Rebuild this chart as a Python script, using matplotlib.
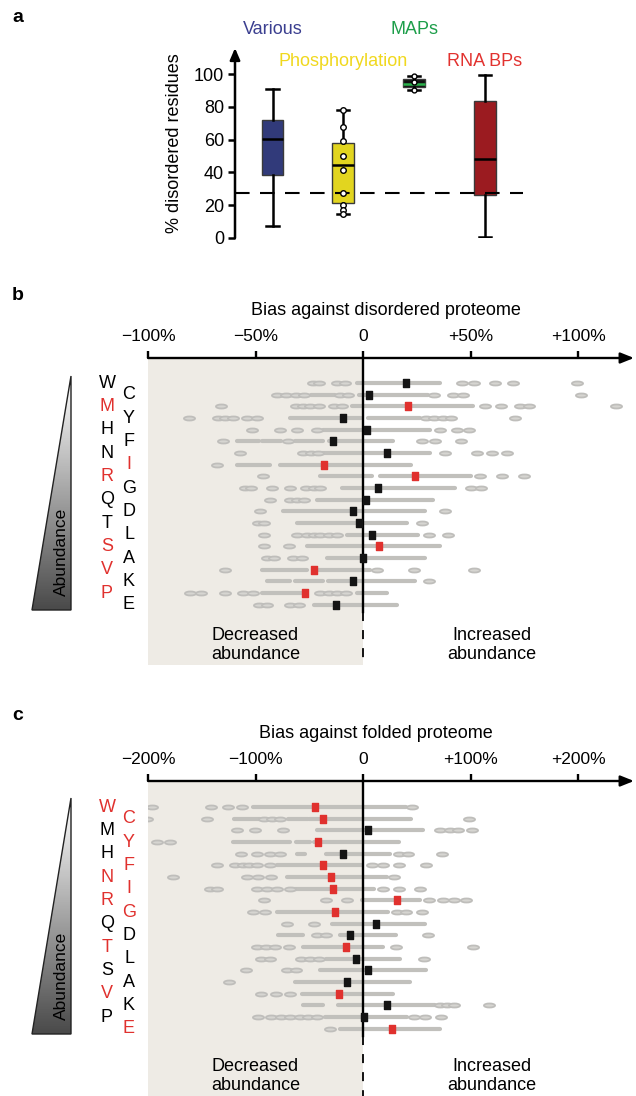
import matplotlib
matplotlib.use("Agg")
import matplotlib.pyplot as plt
import matplotlib.transforms as mtransforms
from matplotlib.path import Path
from matplotlib.patches import Polygon
from matplotlib.colors import LinearSegmentedColormap
import numpy as np

plt.rcParams['font.family'] = ['Liberation Sans', 'DejaVu Sans']

# ---- panel a: % disordered residues per group ----
groups = ["Various", "Phosphorylation", "MAPs", "RNA BPs"]
whislo = [7.6, 14.7, 90.4, 0.4]
q1 = [38.2, 21.2, 92.2, 26.3]
med = [60.6, 44.7, 93.8, 48.0]
q3 = [71.8, 58.2, 97.1, 83.9]
whishi = [91.2, 78.4, 98.8, 99.4]
phos_points = [78.4, 67.6, 59.0, 50.0, 41.4, 27.3, 20.4, 17.3, 14.7]
maps_points = [98.8, 95.1, 90.4]
proteome_level = 27.3

# ---- panels b / c: residues ordered by abundance ----
residues = ["W", "C", "M", "Y", "H", "F", "N", "I", "R", "G",
            "Q", "D", "T", "L", "S", "A", "V", "K", "P", "E"]

# panel b, bias against disordered proteome (%)
sig_b = ["M", "I", "R", "S", "V", "P"]
med_b = [20, 3, 21, -9.5, 2, -14, 11, -18, 24, 7,
         1.5, -4.5, -2, 4, 7.5, 0, -23, -4.5, -27, -12.5]
segs_b = [
    [(-3, 36)],
    [(-24, -13), (-2, 30)],
    [(-5, 51)],
    [(-34, -1), (2.5, 26.5)],
    [(-18.5, 31)],
    [(-58.5, -48.5), (-47, -38), (-31.5, -18.5), (-16, 14)],
    [(-19, 31)],
    [(-58.8, -43.3), (-38.5, 22.5)],
    [(-20, 4), (8, 50)],
    [(-9.9, 42.8)],
    [(-21.2, 32.7)],
    [(-37, 28.8)],
    [(-30.5, 20.3)],
    [(-7.3, 25.7)],
    [(-25.9, 35.8)],
    [(-16.9, 28.8)],
    [(-47.1, -26.2), (-21.2, 3.3)],
    [(-44.8, -34), (-31.6, -18.4), (-16.1, -6), (-4.5, 24.2)],
    [(-47, -27), (-3, 11)],
    [(-23, 15.7)],
]
pts_b = [
    [-23.5, -20.5, -12, -8.5, 46, 51.5, 61.5, 69.5, 99.5],
    [-40, -36, -31, -27.5, -10.5, -7, 33, 42, 46.5, 101.5],
    [-66, -31, -28, -24.5, -20.5, -13.5, -10, 56.5, 64, 73, 77, 117.5],
    [-81, -67.5, -64, -60.5, -54, -49.5, 29.5, 33, 37, 41, 70.5],
    [-51.5, -38.5, -30.5, -21.5, 36, 43.5, 49.5],
    [-65, -35, 27.5, 33.5, 45.5],
    [-57, -28, -24, -21, 38, 53, 60, 67],
    [-68],
    [-46.5, 54.5, 64.5, 75],
    [-55, -52, -42.5, -34, -26.5, -23, -20, 50, 55],
    [-43.5, -34, -30.5, -27.5],
    [-48, 38],
    [-49, -46, 27.5],
    [-46, -30.5, -26, -23, -20, -16, -12, 30.5, 39.5],
    [-46, -34.5],
    [-44.5, -41.5, -32.5, -28.5],
    [-64, 6.5, 23.5, 51.5],
    [30.5],
    [-80.5, -75.5, -64, -56, -51, -20, -16, -12, -8],
    [-48.5, -44.5, -34, -30],
]

# panel c, bias against folded proteome (%)
sig_c = ["W", "C", "Y", "F", "N", "I", "R", "G", "T", "V", "E"]
med_c = [-45, -37, 4.5, -42, -19, -37, -30, -28, 32, -26,
         12, -12, -16, -6.5, 4.5, -15, -22, 22, 1, 27]
segs_c = [
    [(-102.5, 40)],
    [(-120, -96), (-69.5, -51), (-50, 45)],
    [(-43, 56)],
    [(-120.5, -68), (-62, -49), (-46, 33)],
    [(-61, -54), (-34, 25)],
    [(-80, -1)],
    [(-71, 22)],
    [(-65, 10)],
    [(-1, 53)],
    [(-80, 23.5)],
    [(-29, 57.5)],
    [(-79, -55.5), (-21.5, 31)],
    [(-55.5, 19)],
    [(-34, 34)],
    [(-40, 59)],
    [(-63, 43.5)],
    [(-57, 28)],
    [(-55.5, -37), (-23, 67)],
    [(-35, 40.5)],
    [(-21.5, 71.5)],
]
pts_c = [
    [-196.5, -141.5, -125.5, -112.5, 45.5],
    [-201, -145.5, -92.5, -85, -77, 99],
    [-117.5, -100.5, -74, 71.5, 81, 88.5, 101.5],
    [-191.5, -179.5],
    [-113.5, -99, -86.5, -77, 33, 42, 73.5],
    [-136, -119, -112, -106, -99, -86.5, 8, 19, 33, 58.5],
    [-177, -108, -97.5, -86, 29],
    [-142.5, -136, -99, -89.5, -80, -68, 19, 33, 53],
    [-92, -34, -15, 61.5, 74, 84.5, 96],
    [-102, -91, 32, 40, 54.5],
    [-71, -46],
    [-43, -34, 60],
    [-98.5, -90, -82, -68.5, 30.5, 102.5],
    [-94.5, -86.5, -58, -49, -40.5, 57],
    [-109, -71, -62],
    [-124.5],
    [-94.5, -81, -68],
    [71.5, 78, 84.5, 117.5],
    [-97.5, -85.5, -76.5, -68, -58.5, -51, -43, 47.5, 57.5, 72.5],
    [-30.5],
]

# colours
BOX_COLS = ["#313a7a", "#e2d51f", "#111111", "#9b1b20"]
TEXT_COLS = ["#3b3f90", "#f0d81e", "#1d9e4a", "#e2322f"]
RED = "#e0312e"
SHADE = "#eeebe5"

W, H = 636, 1096
fig = plt.figure(figsize=(W / 100, H / 100), dpi=100)


def px_axes(x0, y0, x1, y1):
    return fig.add_axes([x0 / W, 1 - y1 / H, (x1 - x0) / W, (y1 - y0) / H])


# overlay in pixel coordinates for labels / decorations
ov = fig.add_axes([0, 0, 1, 1], zorder=5)
ov.set_xlim(0, W)
ov.set_ylim(H, 0)
ov.axis("off")

for lab, y in [("a", 18), ("b", 296), ("c", 716)]:
    ov.text(18, y, lab, fontsize=14, fontweight="bold", ha="center", va="center")

# ---------------- panel a ----------------
ax = px_axes(235, 48, 540, 238)
pos = [0, 1, 2, 3]
XL = (-0.53, 3.78)
stats = [dict(whislo=whislo[i], q1=q1[i], med=med[i], q3=q3[i], whishi=whishi[i])
         for i in range(len(groups))]
bp = ax.bxp(stats, positions=pos, widths=0.31, patch_artist=True, showfliers=False,
            boxprops=dict(edgecolor="#3a3a3a", linewidth=1.0),
            whiskerprops=dict(color="k", linewidth=1.8),
            capprops=dict(color="k", linewidth=1.8),
            medianprops=dict(color="k", linewidth=1.8),
            capwidths=0.17)
for patch, c in zip(bp["boxes"], BOX_COLS):
    patch.set_facecolor(c)
bp["medians"][2].set_color("#2bb24c")
ax.plot([pos[1]] * len(phos_points), phos_points, "o", ms=4, mfc="white", mec="k",
        mew=1.0, zorder=4)
ax.plot([pos[2]] * len(maps_points), maps_points, "o", ms=3.5, mfc="white", mec="k",
        mew=1.0, zorder=4)
ax.plot([XL[0], 3.54], [proteome_level] * 2, color="k", lw=1.5,
        dashes=(7, 5), clip_on=False)
ax.set_xlim(*XL)
ax.set_ylim(0, 116)
ax.set_yticks([0, 20, 40, 60, 80, 100])
ax.tick_params(axis="y", labelsize=13, length=5, width=1.8, pad=3)
ax.set_xticks([])
for s in ["top", "right", "bottom", "left"]:
    ax.spines[s].set_visible(False)
ax.annotate("", xy=(0, 1), xytext=(0, 0), xycoords="axes fraction",
            arrowprops=dict(arrowstyle="-|>,head_length=0.7,head_width=0.3",
                            lw=1.8, color="k", shrinkA=0, shrinkB=0))
ax.set_ylabel("% disordered residues", fontsize=13, labelpad=8)
ax.patch.set_alpha(0)

label_y = [30, 61, 30, 61]
tr_a = mtransforms.blended_transform_factory(ax.transData, ov.transData)
for i, g in enumerate(groups):
    ov.text(pos[i], label_y[i], g, color=TEXT_COLS[i], fontsize=13, ha="center",
            va="center", transform=tr_a)

# ---------------- panels b / c ----------------
ell = Path.unit_circle().transformed(mtransforms.Affine2D().scale(1.0, 0.36))
rect = Path([(-0.3, -0.5), (0.3, -0.5), (0.3, 0.5), (-0.3, 0.5), (-0.3, -0.5)], closed=True)
grad_cmap = LinearSegmentedColormap.from_list("g", ["#ffffff", "#4a4a4a"])


def bias_panel(box, xmin, xmax, row0_px, ticks, ticklabels, title, segs, pts, meds, sig,
               title_x, tri_top, tri_bot):
    x0, y0, x1, y1 = box
    row_h = 11.67
    ytop = -(row0_px - y0) / row_h
    ybot = (y1 - row0_px) / row_h
    ax = px_axes(x0, y0, x1, y1)
    ax.set_xlim(xmin, xmax)
    ax.set_ylim(ybot, ytop)
    ax.axvspan(xmin, 0, color=SHADE, lw=0, zorder=0)
    for i in range(len(residues)):
        for lo, hi in segs[i]:
            ax.hlines(i, lo, hi, color="#c1c0bc", lw=3.0, capstyle="round", zorder=2)
        ax.plot(pts[i], [i] * len(pts[i]), ls="none", marker=ell, ms=8.0,
                mfc="#d6d5d1", mec="#bfbebb", mew=1.3, zorder=2)
    ax.plot([0, 0], [ytop, 19.6], color="k", lw=1.7, zorder=3)
    ax.plot([0, 0], [19.6, ybot], color="k", lw=1.3, dashes=(5, 5), zorder=3)
    cols = [RED if r in sig else "#141414" for r in residues]
    for i in range(len(residues)):
        ax.plot(meds[i], i, marker=rect, ms=6.3, color=cols[i], ls="none", zorder=4)
    ax.xaxis.tick_top()
    ax.set_xticks(ticks)
    ax.set_xticklabels(ticklabels)
    ax.tick_params(axis="x", labelsize=12.5, length=5, width=1.7, pad=5)
    ax.set_yticks([])
    for s in ["top", "right", "bottom", "left"]:
        ax.spines[s].set_visible(False)
    ax.annotate("", xy=(1, 1), xytext=(0, 1), xycoords="axes fraction",
                arrowprops=dict(arrowstyle="-|>,head_length=0.8,head_width=0.32",
                                lw=1.7, color="k", shrinkA=0, shrinkB=0))
    ax.set_title(title, fontsize=13, pad=31, x=(title_x - x0) / (x1 - x0))

    # residue letters in two columns
    tr = mtransforms.blended_transform_factory(fig.transFigure, ax.transData)
    for i, r in enumerate(residues):
        xl = 107 if i % 2 == 0 else 129
        ax.text(xl / W, i, r, transform=tr, fontsize=13, ha="center", va="center",
                color=RED if r in sig else "k", clip_on=False)

    # zone labels
    ax.text(xmin / 2, ybot - 0.2, "Decreased\nabundance", fontsize=13, ha="center",
            va="bottom", linespacing=1.1)
    ax.text(-xmin / 2 + 10 * (xmax - xmin) / 226, ybot - 0.2, "Increased\nabundance",
            fontsize=13, ha="center", va="bottom", linespacing=1.1)

    # abundance wedge
    tri = Polygon([(71, tri_top), (71, tri_bot), (32, tri_bot)], closed=True,
                  fc="none", ec="#222222", lw=1.0, zorder=6)
    ov.add_patch(tri)
    im = ov.imshow(np.linspace(0, 1, 200).reshape(-1, 1), cmap=grad_cmap, aspect="auto",
                   extent=[32, 71, tri_bot, tri_top], origin="upper", zorder=5)
    im.set_clip_path(tri)
    ov.text(61, tri_bot - 58, "Abundance", rotation=90, fontsize=12.5, ha="center",
            va="center", zorder=7)
    return ax


bias_panel((148, 358, 634, 665), -100, 126, 383,
           [-100, -50, 0, 50, 100], ["\u2212100%", "\u221250%", "0", "+50%", "+100%"],
           "Bias against disordered proteome", segs_b, pts_b, med_b, sig_b,
           386, 376, 610)
bias_panel((148, 781, 634, 1096), -200, 252, 807,
           [-200, -100, 0, 100, 200], ["\u2212200%", "\u2212100%", "0", "+100%", "+200%"],
           "Bias against folded proteome", segs_c, pts_c, med_c, sig_c,
           376, 798, 1034)

ov.set_xlim(0, W)
ov.set_ylim(H, 0)

fig.savefig("out.png", dpi=100, facecolor="white")
